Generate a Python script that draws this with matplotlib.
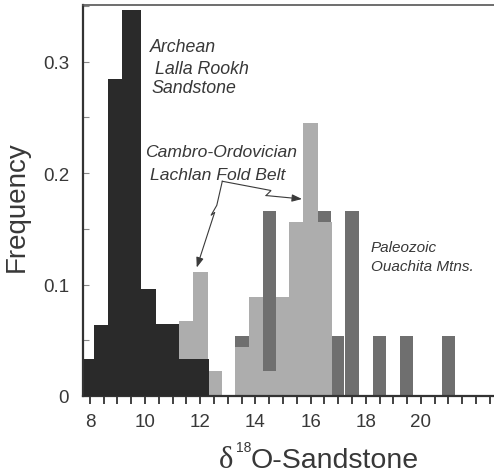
import matplotlib
matplotlib.use('Agg')
import matplotlib.pyplot as plt
import numpy as np
from matplotlib.ticker import MultipleLocator, FixedLocator

plt.rcParams['font.family'] = ['Liberation Sans', 'DejaVu Sans']

# Archean Lalla Rookh Sandstone (bin edges + frequencies)
archean_edges = [7.8, 8.16, 8.66, 9.15, 9.85, 10.38, 11.22, 12.33]
archean_freq = [0.033, 0.064, 0.284, 0.346, 0.096, 0.065, 0.033]

# Cambro-Ordovician Lachlan Fold Belt
lachlan_edges = [11.22, 11.74, 12.29, 12.78, 13.25, 13.76, 14.26, 14.74, 15.22, 15.73, 16.27, 16.78]
lachlan_freq = [0.067, 0.111, 0.022, 0.0, 0.044, 0.089, 0.022, 0.089, 0.156, 0.245, 0.156]

# Paleozoic Ouachita Mtns. (separate bars)
ouachita_left = [13.25, 14.26, 16.27, 16.78, 17.26, 18.27, 19.26, 20.77]
ouachita_right = [13.76, 14.74, 16.73, 17.22, 17.75, 18.72, 19.71, 21.23]
ouachita_freq = [0.054, 0.166, 0.166, 0.054, 0.166, 0.054, 0.054, 0.054]

xticks = [8, 10, 12, 14, 16, 18, 20]
yticks = [0, 0.1, 0.2, 0.3]
ytick_labels = ['0', '0.1', '0.2', '0.3']

txt_col = '#383838'
W, H = 494, 477

fig = plt.figure(figsize=(4.94, 4.77), dpi=100)
ax = fig.add_axes([83 / W, 80 / H, 411 / W, 391 / H])

# dark gray behind, light gray in front, black on top
ax.bar(ouachita_left, ouachita_freq,
       width=np.array(ouachita_right) - np.array(ouachita_left),
       align='edge', color='#6f6f6f', linewidth=0, zorder=1)
ax.bar(lachlan_edges[:-1], lachlan_freq, width=np.diff(lachlan_edges),
       align='edge', color='#adadad', linewidth=0, zorder=2)
ax.bar(archean_edges[:-1], archean_freq, width=np.diff(archean_edges),
       align='edge', color='#2a2a2a', linewidth=0, zorder=3)

ax.set_xlim(7.75, 22.65)
ax.set_ylim(0, 0.3507)

ax.xaxis.set_major_locator(FixedLocator(xticks))
ax.xaxis.set_minor_locator(MultipleLocator(0.5))
ax.set_yticks(yticks)
ax.set_yticklabels(ytick_labels)
ax.yaxis.set_minor_locator(MultipleLocator(0.05))

ax.tick_params(axis='x', which='both', direction='out', length=6, width=1.3,
               color='#333333', labelsize=13.5, labelcolor=txt_col, pad=6)
ax.tick_params(axis='y', which='both', direction='in', length=4, width=0.8,
               color='#888888', labelsize=13.5, labelcolor=txt_col, pad=10)

for s in ['left', 'bottom']:
    ax.spines[s].set_linewidth(1.6)
    ax.spines[s].set_color('#333333')
ax.spines['top'].set_linewidth(1.2)
ax.spines['top'].set_color('#555555')
ax.spines['right'].set_visible(False)

# axis labels
fig.text(17 / W, 1 - 207 / H, 'Frequency', rotation=90, ha='center',
         va='center', fontsize=20, color=txt_col)
fig.text(219 / W, 1 - 468 / H, '\u03b4', family='Liberation Serif',
         ha='left', va='baseline', fontsize=22, color=txt_col)
fig.text(236 / W, 1 - 452 / H, '18', ha='left', va='baseline',
         fontsize=10, color=txt_col)
fig.text(251 / W, 1 - 468 / H, 'O-Sandstone', ha='left', va='baseline',
         fontsize=20.5, color=txt_col)

# annotations
kw = dict(style='italic', color=txt_col, va='baseline', ha='left')
ax.text(10.18, 0.309, 'Archean', fontsize=12.8, **kw)
ax.text(10.36, 0.2897, 'Lalla Rookh', fontsize=12.8, **kw)
ax.text(10.25, 0.2726, 'Sandstone', fontsize=12.8, **kw)
ax.text(10.0, 0.2152, 'Cambro-Ordovician', fontsize=12.6, **kw)
ax.text(10.18, 0.1946, 'Lachlan Fold Belt', fontsize=12.6, **kw)
ax.text(18.19, 0.130, 'Paleozoic', fontsize=11, **kw)
ax.text(18.19, 0.113, 'Ouachita Mtns.', fontsize=11, **kw)

# lightning-bolt arrows
apex = (12.80, 0.1926)
right_path = [apex, (14.567, 0.1843), (14.385, 0.1798)]
right_tip = (15.69, 0.1767)
left_path = [apex, (12.60, 0.171), (12.39, 0.162), (12.52, 0.1645)]
left_tip = (11.873, 0.1152)

for path, tip in [(right_path, right_tip), (left_path, left_tip)]:
    xs, ys = zip(*path)
    ax.plot(xs, ys, color='#3a3a3a', lw=0.8, zorder=5, solid_joinstyle='miter')
    ax.annotate('', xy=tip, xytext=path[-1],
                arrowprops=dict(arrowstyle='-|>,head_length=0.6,head_width=0.22',
                                color='#3a3a3a', lw=0.8, shrinkA=0, shrinkB=0),
                zorder=5)

fig.savefig('out.png', dpi=100)
